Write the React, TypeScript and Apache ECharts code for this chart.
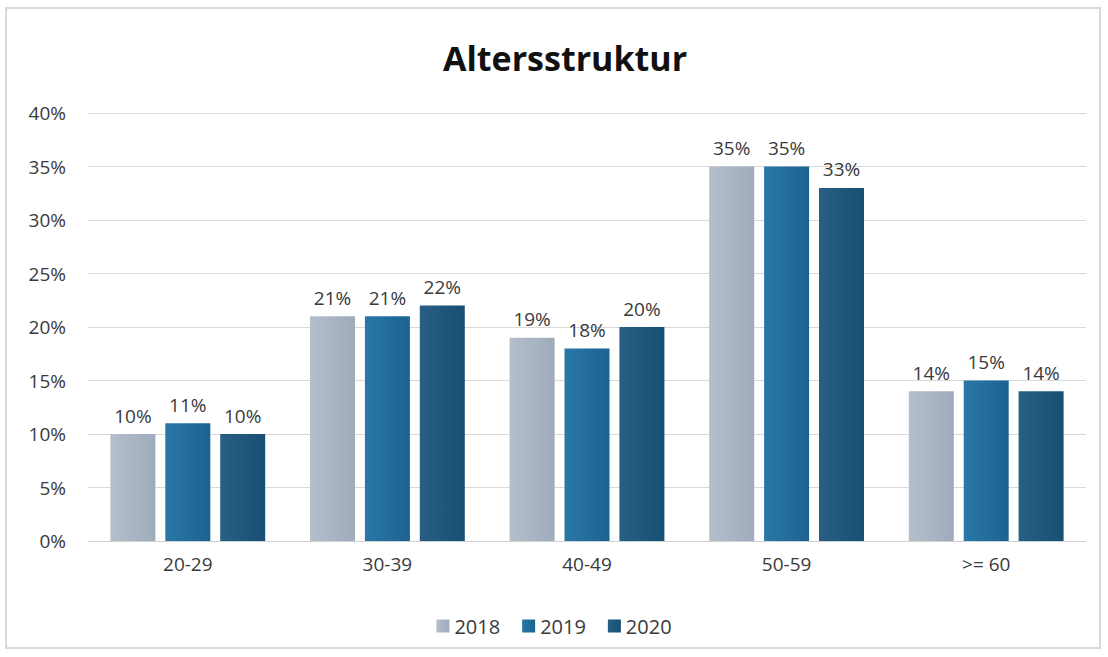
import React, { useEffect, useRef } from "react";
import * as echarts from "echarts";

const categories = ["20-29", "30-39", "40-49", "50-59", ">= 60"];
const years = ["2018", "2019", "2020"];
const values2018 = [10, 21, 19, 35, 14];
const values2019 = [11, 21, 18, 35, 15];
const values2020 = [10, 22, 20, 33, 14];
const yTicks = [0, 5, 10, 15, 20, 25, 30, 35, 40];

const colors = [
  ["#b4bfcc", "#9eabbb"],
  ["#2a78a8", "#1a6291"],
  ["#285f84", "#174f74"],
];

export default function App() {
  const ref = useRef<HTMLDivElement>(null);
  useEffect(() => {
    document.body.style.margin = "0";
    const chart = echarts.init(ref.current!, null, { renderer: "svg" });
    const seriesData = [values2018, values2019, values2020];
    const font = "'Open Sans', 'Liberation Sans', sans-serif";
    const txt = "#3a3a3a";
    chart.setOption({
      animation: false,
      backgroundColor: "#ffffff",
      textStyle: { fontFamily: font },
      title: {
        text: "Altersstruktur",
        left: 438,
        top: 36,
        textStyle: { fontSize: 34, fontWeight: "bold", color: "#111", fontFamily: font },
      },
      graphic: [
        {
          type: "rect",
          shape: { x: 6, y: 8, width: 1094, height: 640 },
          style: { fill: "none", stroke: "#d9d9d9", lineWidth: 2 },
          silent: true,
        },
      ],
      legend: {
        data: years,
        bottom: 16,
        left: "center",
        itemWidth: 13,
        itemHeight: 13,
        itemGap: 22,
        textStyle: { fontSize: 20, color: txt, fontFamily: font },
        icon: "rect",
      },
      grid: { left: 88, right: 22, top: 113, bottom: 116, containLabel: false },
      xAxis: {
        type: "category",
        data: categories,
        axisLine: { lineStyle: { color: "#d0d0d0", width: 1 } },
        axisTick: { show: false },
        axisLabel: { fontSize: 19, color: txt, margin: 13, fontFamily: font },
      },
      yAxis: {
        type: "value",
        min: 0,
        max: 40,
        interval: 5,
        axisLine: { show: false },
        axisTick: { show: false },
        splitLine: { lineStyle: { color: "#d9d9d9", width: 1 } },
        axisLabel: {
          fontSize: 19,
          color: txt,
          margin: 22,
          fontFamily: font,
          formatter: (v: number) => (yTicks.includes(v) ? v + "%" : ""),
        },
      },
      series: years.map((y, i) => ({
        name: y,
        type: "bar",
        data: seriesData[i],
        barWidth: 45,
        barGap: "22%",
        itemStyle: {
          color: new echarts.graphic.LinearGradient(0, 0, 1, 0, [
            { offset: 0, color: colors[i][0] },
            { offset: 1, color: colors[i][1] },
          ]),
        },
        label: {
          show: true,
          position: "top",
          distance: 9,
          formatter: "{c}%",
          fontSize: 19,
          color: txt,
          fontFamily: font,
        },
      })),
      color: colors.map((c) => c[1]),
    });
    return () => chart.dispose();
  }, []);
  return <div ref={ref} style={{ width: 1108, height: 657 }} />;
}
